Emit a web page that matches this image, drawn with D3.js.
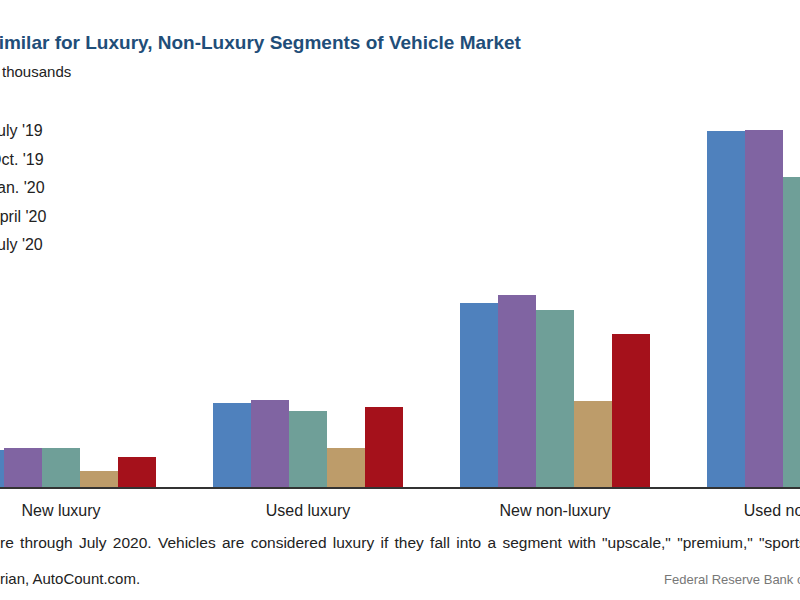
<!DOCTYPE html>
<html><head><meta charset="utf-8">
<script src="https://cdn.jsdelivr.net/npm/d3@7"></script>
<style>body{margin:0;background:#fff}</style></head>
<body><svg id="c" width="800" height="600"></svg>
<script>
const categories = ["New luxury","Used luxury","New non-luxury","Used non-luxury"];
const seriesNames = ["July '19","Oct. '19","Jan. '20","April '20","July '20"];
const colors = ["#4f81bd","#8064a2","#6f9f98","#bd9c6a","#a5111b"];
const values = [
  [38,40,40,17,31],
  [85,88,77,40,81],
  [185,193,178,87,154],
  [357,358,311,170,300]
];
const svg = d3.select("#c");
const font = "Arial, 'Liberation Sans', sans-serif";
const y = d3.scaleLinear().domain([0,400]).range([488,88]);
const x = d3.scaleBand().domain(categories).range([-62.5,925.5]).paddingInner(57/247).paddingOuter(57/494);
const xs = d3.scaleBand().domain(d3.range(5)).range([0,x.bandwidth()]);
categories.forEach((c,i)=>{
  svg.append("g").attr("transform",`translate(${x(c)},0)`)
    .selectAll("rect").data(values[i]).join("rect")
    .attr("x",(d,j)=>xs(j)).attr("width",xs.bandwidth())
    .attr("y",d=>y(d)).attr("height",d=>y(0)-y(d)).attr("fill",(d,j)=>colors[j]);
  svg.append("text").attr("x",x(c)+x.bandwidth()/2).attr("y",516).attr("text-anchor","middle")
    .attr("font-family",font).attr("font-size",16).attr("fill","#222").text(c);
});
svg.append("line").attr("x1",0).attr("x2",800).attr("y1",y(0)).attr("y2",y(0)).attr("stroke","#333").attr("stroke-width",2);
svg.append("text").attr("x",-14).attr("y",49).attr("font-family",font).attr("font-size",19).attr("font-weight","bold")
  .attr("fill","#1f4e79").text("Similar for Luxury, Non-Luxury Segments of Vehicle Market");
svg.append("text").attr("x",2).attr("y",77).attr("font-family",font).attr("font-size",15).attr("fill","#222").text("thousands");
seriesNames.forEach((s,i)=>{
  svg.append("text").attr("x",-11).attr("y",136+i*28.6).attr("font-family",font).attr("font-size",16).attr("fill","#222").text(s);
});
svg.append("text").attr("x",0).attr("y",548).attr("font-family",font).attr("font-size",15.5).attr("fill","#222")
  .attr("word-spacing",2)
  .text('re through July 2020. Vehicles are considered luxury if they fall into a segment with "upscale," "premium," "sports," or "luxury" in the name.');
svg.append("text").attr("x",0).attr("y",584).attr("font-family",font).attr("font-size",15).attr("fill","#222").text("rian, AutoCount.com.");
svg.append("text").attr("x",664).attr("y",584).attr("font-family",font).attr("font-size",13).attr("fill","#777").text("Federal Reserve Bank of St. Louis");
</script></body></html>
